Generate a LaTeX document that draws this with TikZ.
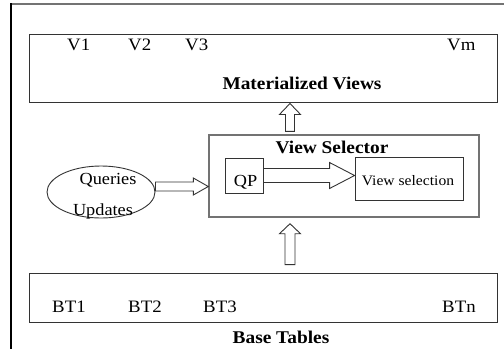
\documentclass[tikz,border=0pt]{standalone}
\usepackage{fontspec}
\setmainfont{Liberation Serif}[FakeStretch=1.08]
\usetikzlibrary{calc,shapes.geometric}

% hollow block arrow: start, tip, shaft half-width, head half-width, head length
\newcommand\blockarrow[5]{%
  \path ($(#2)!#5!(#1)$) coordinate (ba-base);
  \draw[blockline] ($(#1)!#3!90:(#2)$) -- ($(ba-base)!#3!90:(#2)$)
    -- ($(ba-base)!#4!90:(#2)$) -- (#2) -- ($(ba-base)!#4!-90:(#2)$)
    -- ($(ba-base)!#3!-90:(#2)$) -- ($(#1)!#3!-90:(#2)$) -- cycle;
}

\tikzset{
  box/.style={draw=black!80, line width=0.9bp, inner sep=0pt},
  graybox/.style={draw=black!55, line width=1.4bp, inner sep=0pt},
  blockline/.style={draw=black!80, line width=0.9bp, fill=white, line join=miter},
  item/.style={inner sep=0pt, anchor=base west, font=\fontsize{17.5}{18}\selectfont},
  title/.style={inner sep=0pt, anchor=base, font=\fontsize{18}{20}\selectfont\bfseries},
  txt/.style={inner sep=0pt, anchor=base, font=\fontsize{17}{18}\selectfont},
}

\begin{document}
\begin{tikzpicture}[x=1bp, y=-1bp]
\useasboundingbox (0,0) rectangle (504,349);

% outer frame (top and left edges)
\draw[draw=black!55, line width=2bp] (11,4) -- (504,4);
\draw[draw=black, line width=1.4bp] (11,3) -- (11,349);

% boxes
\node[box, minimum width=468bp, minimum height=68bp] (mv) at (263,68) {};
\node[graybox, minimum width=270bp, minimum height=82bp] (vs) at (344,176) {};
\node[box, minimum width=38bp, minimum height=35bp] (qp) at (244,175.5) {};
\node[box, minimum width=108bp, minimum height=43bp] (vsel) at (409,178.5) {};
\node[box, minimum width=468bp, minimum height=49bp] (bt) at (263,297.5) {};
\node[draw=black!80, line width=0.9bp, ellipse, minimum width=108bp, minimum height=52bp, inner sep=0pt] (qu) at (101,192) {};

% labels
\node[item] (v1) at (67,50) {V1};
\node[item] (v2) at (128,50) {V2};
\node[item] (v3) at (185,50) {V3};
\node[item] (vm) at (447,50) {Vm};
\node[title] (mvt) at (302,89) {Materialized Views};
\node[title] (vst) at (332,153) {View Selector};
\node[txt] (qpt) at (245.5,186) {QP};
\node[inner sep=0pt, anchor=base, font=\fontsize{14.5}{16}\selectfont] (vselt) at (408,185) {View selection};
\node[txt] (qt) at (108,184) {Queries};
\node[txt] (ut) at (103,215) {Updates};
\node[item] (bt1) at (52,312) {BT1};
\node[item] (bt2) at (128,312) {BT2};
\node[item] (bt3) at (203,312) {BT3};
\node[item] (btn) at (442,312) {BTn};
\node[title] (btt) at (281,343) {Base Tables};

% arrow end points
\coordinate (axis) at (290,0);
\coordinate (a1s) at ([yshift=3bp]vs.north -| axis);
\coordinate (a1e) at ([yshift=-1bp]mv.south -| axis);
\coordinate (a2s) at ([yshift=8bp]bt.north -| axis);
\coordinate (a2e) at ([yshift=-6bp]vs.south -| axis);
\coordinate (a3s) at ([yshift=5.5bp]qu.east);
\coordinate (a3e) at (vs.west |- a3s);
\coordinate (a4s) at (qp.east);
\coordinate (a4e) at (vsel.west |- qp.east);

% block arrows
\blockarrow{a1s}{a1e}{4.5bp}{10.5bp}{11bp}
\blockarrow{a2s}{a2e}{5bp}{10.5bp}{10bp}
\blockarrow{a3s}{a3e}{4.5bp}{8.5bp}{15bp}
\blockarrow{a4s}{a4e}{7bp}{13bp}{25bp}
\end{tikzpicture}
\end{document}
